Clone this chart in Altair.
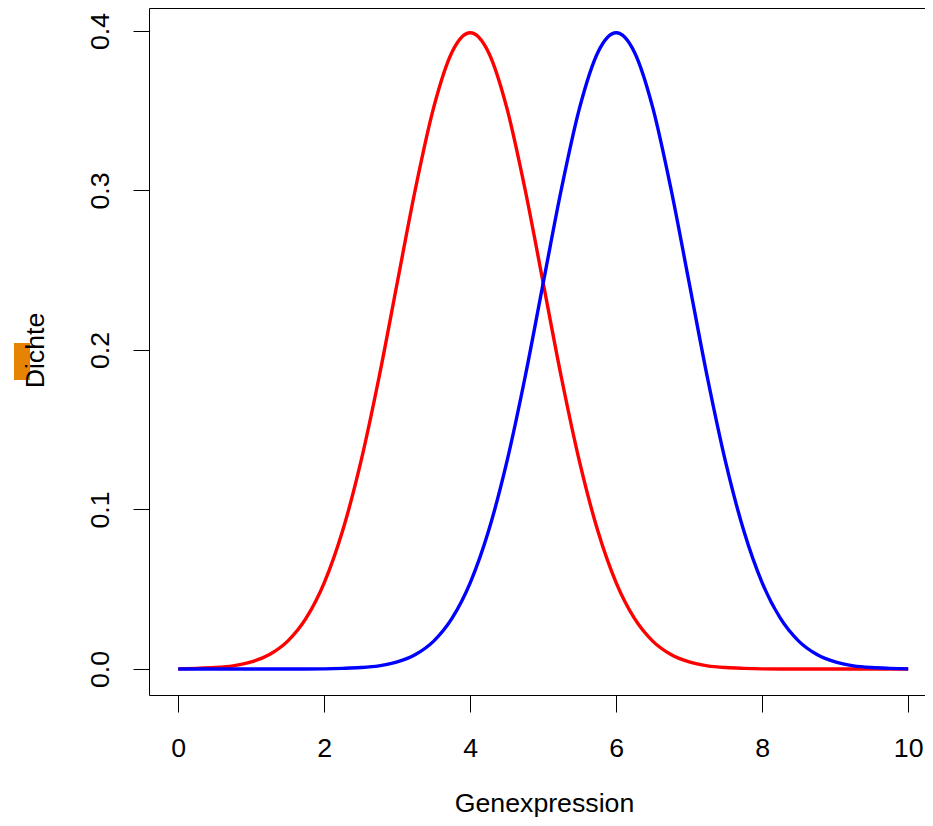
import altair as alt
import pandas as pd

# Values
x_vals = [0.0, 0.25, 0.5, 0.75, 1.0, 1.25, 1.5, 1.75, 2.0, 2.25, 2.5, 2.75,
          3.0, 3.25, 3.5, 3.75, 4.0, 4.25, 4.5, 4.75, 5.0, 5.25, 5.5, 5.75,
          6.0, 6.25, 6.5, 6.75, 7.0, 7.25, 7.5, 7.75, 8.0, 8.25, 8.5, 8.75,
          9.0, 9.25, 9.5, 9.75, 10.0]
red_vals = [0.0001, 0.0004, 0.0009, 0.0020, 0.0044, 0.0091, 0.0175, 0.0317, 0.0540,
            0.0863, 0.1295, 0.1826, 0.2420, 0.3011, 0.3521, 0.3867, 0.3989, 0.3867,
            0.3521, 0.3011, 0.2420, 0.1826, 0.1295, 0.0863, 0.0540, 0.0317, 0.0175,
            0.0091, 0.0044, 0.0020, 0.0009, 0.0004, 0.0001, 0.0000, 0.0000, 0.0000,
            0.0000, 0.0000, 0.0000, 0.0000, 0.0000]
blue_vals = [0.0000, 0.0000, 0.0000, 0.0000, 0.0000, 0.0000, 0.0000, 0.0000, 0.0001,
             0.0004, 0.0009, 0.0020, 0.0044, 0.0091, 0.0175, 0.0317, 0.0540, 0.0863,
             0.1295, 0.1826, 0.2420, 0.3011, 0.3521, 0.3867, 0.3989, 0.3867, 0.3521,
             0.3011, 0.2420, 0.1826, 0.1295, 0.0863, 0.0540, 0.0317, 0.0175, 0.0091,
             0.0044, 0.0020, 0.0009, 0.0004, 0.0001]
x_ticks = [0, 2, 4, 6, 8, 10]
y_ticks = [0.0, 0.1, 0.2, 0.3, 0.4]
x_title = "Genexpression"
y_title = "Dichte"

df = pd.DataFrame({"x": x_vals, "rot": red_vals, "blau": blue_vals})

FONT = "Liberation Sans"
FS = 26.7
W, H = 776, 687

xscale = alt.Scale(domain=[-0.4, -0.4 + W / 73.0], nice=False, zero=False)
yscale = alt.Scale(domain=[-0.0163, 0.4144], nice=False, zero=False)

xaxis = alt.Axis(
    values=x_ticks, format="d", title=x_title, grid=False,
    domain=True, domainColor="black", domainWidth=1,
    tickSize=17, tickColor="black", tickWidth=1,
    labelFont=FONT, labelFontSize=FS, labelColor="black",
    labelBaseline="alphabetic", labelPadding=44, labelFlush=False,
    titleFont=FONT, titleFontSize=FS, titleFontWeight="normal", titleColor="black",
    titleBaseline="alphabetic", titleAlign="center", titleX=395, titleY=116,
)
yaxis = alt.Axis(
    values=y_ticks, format=".1f", title=y_title, grid=False,
    domain=True, domainColor="black", domainWidth=1,
    tickSize=16, tickColor="black", tickWidth=1,
    labelFont=FONT, labelFontSize=FS, labelColor="black",
    labelAngle=270, labelAlign="center", labelBaseline="alphabetic",
    labelPadding=25, labelFlush=False,
    titleFont=FONT, titleFontSize=FS, titleFontWeight="normal", titleColor="black",
    titleAngle=270, titleAlign="center", titleBaseline="alphabetic",
    titleX=-106, titleY=342, zindex=1,
)
top_axis = alt.Axis(
    orient="top", domain=True, domainColor="black", domainWidth=1,
    ticks=False, labels=False, title=None, grid=False,
)

base = alt.Chart(df)
red = base.mark_line(color="#FF0000", strokeWidth=3.4, interpolate="monotone").encode(
    x=alt.X("x:Q", scale=xscale, axis=xaxis),
    y=alt.Y("rot:Q", scale=yscale, axis=yaxis),
)
blue = base.mark_line(color="#0000FF", strokeWidth=3.4, interpolate="monotone").encode(
    x=alt.X("x:Q", scale=xscale, axis=None),
    y=alt.Y("blau:Q", scale=yscale, axis=yaxis),
)
frame_top = base.mark_point(opacity=0, size=0).encode(
    x=alt.X("x:Q", scale=xscale, axis=top_axis),
)
marker = alt.Chart(pd.DataFrame({"k": [0]})).mark_rect(color="#E68300").encode(
    x=alt.value(-135), x2=alt.value(-119), y=alt.value(335), y2=alt.value(372)
)

chart = alt.layer(marker, red, blue, frame_top).resolve_axis(x="independent").properties(
    width=W, height=H,
    padding={"left": 141, "top": 0, "right": 0, "bottom": 123},
    autosize="none",
).configure_view(stroke="transparent", strokeWidth=0)

chart.save("out.html", embed_options={"renderer": "svg", "actions": False})
